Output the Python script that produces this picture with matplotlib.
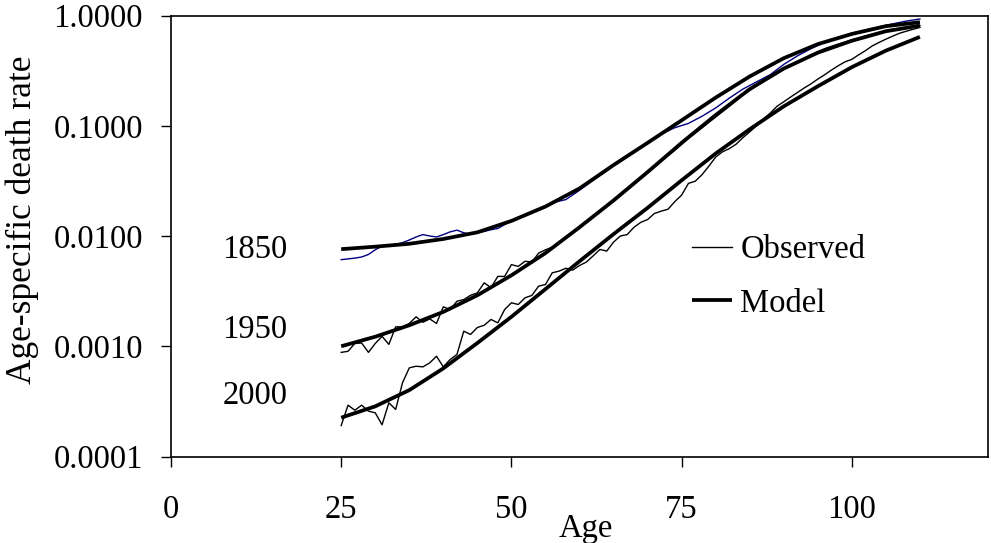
import matplotlib
matplotlib.use("Agg")
import matplotlib.pyplot as plt
from matplotlib.ticker import FixedLocator, FixedFormatter, NullLocator

# ---------------- data ----------------
model_ages = [25, 30, 35, 40, 45, 50, 55, 60, 65, 70, 75, 80, 85, 90, 95, 100, 105, 110]
model_1850 = [7.6e-3, 8.0e-3, 8.5e-3, 9.4e-3, 1.08e-2, 1.37e-2, 1.85e-2, 2.7e-2, 4.4e-2,
              7.0e-2, 0.112, 0.18, 0.28, 0.41, 0.55, 0.68, 0.80, 0.87]
model_1950 = [1.0e-3, 1.22e-3, 1.55e-3, 2.05e-3, 2.9e-3, 4.4e-3, 7.0e-3, 1.2e-2, 2.1e-2,
              3.8e-2, 0.07, 0.125, 0.215, 0.33, 0.46, 0.59, 0.72, 0.81]
model_2000 = [2.25e-4, 2.85e-4, 4.0e-4, 6.3e-4, 1.07e-3, 1.85e-3, 3.3e-3, 5.9e-3, 1.04e-2,
              1.8e-2, 3.2e-2, 5.6e-2, 9.3e-2, 0.15, 0.228, 0.34, 0.48, 0.64]

obs1850_ages = list(range(25, 59)) + list(range(60, 111, 2))
obs1850 = [6.1e-3, 6.2e-3, 6.3e-3, 6.45e-3, 6.8e-3, 7.5e-3, 8.1e-3, 8.25e-3, 8.4e-3, 8.7e-3,
           9.2e-3, 9.8e-3, 1.03e-2, 1.0e-2, 9.8e-3, 1.03e-2, 1.09e-2, 1.13e-2, 1.07e-2, 1.04e-2,
           1.07e-2, 1.1e-2, 1.14e-2, 1.17e-2, 1.27e-2, 1.38e-2, 1.46e-2, 1.55e-2, 1.65e-2, 1.76e-2,
           1.88e-2, 2.0e-2, 2.07e-2, 2.14e-2,
           2.6e-2, 3.2e-2, 3.9e-2, 4.9e-2, 5.9e-2, 7.0e-2, 8.4e-2, 9.6e-2, 0.105, 0.122, 0.145,
           0.178, 0.215, 0.25, 0.29, 0.36, 0.43, 0.50, 0.57, 0.63, 0.69, 0.74, 0.79, 0.84, 0.89, 0.93]

obs1950_ages = list(range(25, 59)) + list(range(60, 111, 2))
obs1950 = [8.8e-4, 9.0e-4, 1.06e-3, 1.07e-3, 8.8e-4, 1.06e-3, 1.23e-3, 1.04e-3, 1.5e-3, 1.5e-3,
           1.61e-3, 1.85e-3, 1.65e-3, 1.77e-3, 1.61e-3, 2.28e-3, 2.15e-3, 2.56e-3, 2.65e-3, 2.9e-3,
           3.05e-3, 3.76e-3, 3.4e-3, 4.3e-3, 4.3e-3, 5.5e-3, 5.3e-3, 5.9e-3, 5.8e-3, 7.0e-3,
           7.5e-3, 7.9e-3, 8.7e-3, 9.8e-3,
           1.2e-2, 1.5e-2, 1.9e-2, 2.4e-2, 3.0e-2, 3.8e-2, 4.8e-2, 6.0e-2, 7.7e-2, 9.6e-2, 0.12,
           0.15, 0.19, 0.23, 0.28, 0.33, 0.38, 0.44, 0.50, 0.55, 0.60, 0.65, 0.70, 0.74, 0.78, 0.81]

obs2000_ages = list(range(25, 111))
obs2000 = [1.91e-4, 2.92e-4, 2.63e-4, 2.92e-4, 2.58e-4, 2.49e-4, 1.94e-4, 3.07e-4, 2.67e-4, 4.66e-4,
           6.37e-4, 6.59e-4, 6.5e-4, 7.07e-4, 8.12e-4, 6.5e-4, 7.58e-4, 8.42e-4, 1.37e-3, 1.28e-3,
           1.48e-3, 1.55e-3, 1.75e-3, 1.63e-3, 2.15e-3, 2.48e-3, 2.39e-3, 2.75e-3, 2.89e-3, 3.51e-3,
           3.63e-3, 4.64e-3, 4.8e-3, 5.1e-3, 4.9e-3, 5.4e-3, 5.8e-3, 6.6e-3, 7.55e-3, 7.3e-3,
           8.8e-3, 1.0e-2, 1.03e-2, 1.2e-2, 1.33e-2, 1.41e-2, 1.6e-2, 1.68e-2, 1.75e-2, 2.05e-2,
           2.35e-2, 3.0e-2, 3.14e-2, 3.6e-2, 4.3e-2, 5.2e-2, 5.8e-2, 6.2e-2, 6.8e-2, 7.8e-2,
           8.8e-2, 0.10, 0.115, 0.13, 0.15, 0.165, 0.182, 0.20, 0.22, 0.24, 0.265,
           0.29, 0.32, 0.35, 0.38, 0.40, 0.44, 0.48, 0.53, 0.57, 0.61, 0.65, 0.69, 0.72, 0.75, 0.78]

year_labels = ["1850", "1950", "2000"]
x_ticks = [0, 25, 50, 75, 100]
y_ticks = [0.0001, 0.001, 0.01, 0.1, 1.0]
y_tick_labels = ["0.0001", "0.0010", "0.0100", "0.1000", "1.0000"]

# ---------------- figure ----------------
W, H = 991, 543
fig = plt.figure(figsize=(W / 100, H / 100), dpi=100)
plt.rcParams['font.family'] = ['Liberation Serif', 'DejaVu Serif']
FS = 23.5

ax = fig.add_axes([171 / W, 1 - 456.5 / H, 817 / W, 441 / H])

thin = 1.0
thick = 2.7
l_obs1850, = ax.plot(obs1850_ages, obs1850, color='#000080', lw=thin)
l_obs1950, = ax.plot(obs1950_ages, obs1950, color='black', lw=thin)
l_obs2000, = ax.plot(obs2000_ages, obs2000, color='black', lw=thin)
l_m1850, = ax.plot(model_ages, model_1850, color='black', lw=thick, solid_capstyle='butt')
l_m1950, = ax.plot(model_ages, model_1950, color='black', lw=thick, solid_capstyle='butt')
l_m2000, = ax.plot(model_ages, model_2000, color='black', lw=thick, solid_capstyle='butt')

ax.set_yscale('log')
ax.set_xlim(0, 120)
ax.set_ylim(1e-4, 1.0)
ax.xaxis.set_major_locator(FixedLocator(x_ticks))
ax.yaxis.set_major_locator(FixedLocator(y_ticks))
ax.yaxis.set_major_formatter(FixedFormatter(y_tick_labels))
ax.yaxis.set_minor_locator(NullLocator())
ax.tick_params(axis='both', direction='out', length=7.2, width=1.0, labelsize=FS, colors='black')
ax.tick_params(axis='x', pad=20)
ax.tick_params(axis='y', pad=13)
for s in ax.spines.values():
    s.set_linewidth(1.2)

# year labels
for txt, yb in zip(year_labels, [258, 338, 404]):
    fig.text(255 / W, 1 - yb / H, txt, fontsize=FS, ha='center', va='baseline')

# legend
leg = ax.legend([l_obs1950, l_m1850], ['Observed', 'Model'], frameon=False, fontsize=FS,
                loc='upper left', bbox_to_anchor=(692 / W, 1 - 235 / H),
                bbox_transform=fig.transFigure, borderpad=0, borderaxespad=0,
                handlelength=1.23, handletextpad=0.25, labelspacing=0.7)

# axis titles
fig.text(586 / W, 1 - 537 / H, 'Age', fontsize=FS, ha='center', va='baseline')
fig.text(22 / W, 1 - 220 / H, 'Age-specific death rate', fontsize=25.5, rotation=90,
         ha='center', va='center')

fig.savefig('out.png', dpi=100)
